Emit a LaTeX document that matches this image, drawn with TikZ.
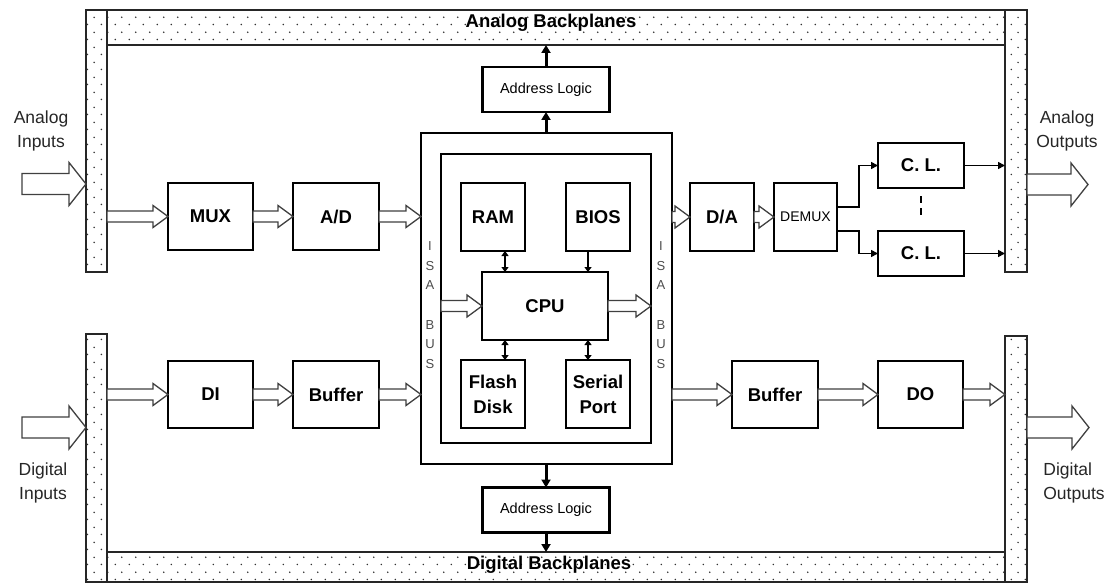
\documentclass[tikz,border=0pt]{standalone}
\usepackage{fontspec}
\setmainfont{Liberation Sans}
\usetikzlibrary{arrows.meta,calc,patterns}

% staggered dot grid for the backplane strips
\pgfdeclarepatternformonly{bpdots}{\pgfqpoint{0pt}{0pt}}{\pgfqpoint{14pt}{15pt}}{\pgfqpoint{14pt}{15pt}}{%
  \pgfpathcircle{\pgfqpoint{3.5pt}{3.75pt}}{0.9pt}%
  \pgfpathcircle{\pgfqpoint{10.5pt}{11.25pt}}{0.9pt}%
  \pgfusepath{fill}}

% hollow (outlined) bus arrow: start, end, shaft half width, head half width, head length
\newcommand\hollowarrow[5]{%
  \draw[hollow] let \p1=(#1), \p2=(#2) in
    (\x1,{\y1+#3}) -- ({\x2-#5},{\y1+#3}) -- ({\x2-#5},{\y1+#4}) -- (\x2,\y1)
    -- ({\x2-#5},{\y1-#4}) -- ({\x2-#5},{\y1-#3}) -- (\x1,{\y1-#3}) -- cycle;}
\newcommand\busarrow[2]{\hollowarrow{#1}{#2}{5.5pt}{11pt}{15pt}}
\newcommand\portarrow[2]{\hollowarrow{#1}{#2}{10.5pt}{21.5pt}{17pt}}

\tikzset{
  every node/.style={inner sep=0pt, outer sep=0pt},
  backplane/.style={draw=black!85, line width=1.4pt, pattern=bpdots, pattern color=black!80},
  bandlabel/.style={font=\bfseries\fontsize{18.5}{20}\selectfont},
  unit/.style={draw, line width=2.8pt, fill=white, align=center,
               font=\bfseries\fontsize{18.5}{25}\selectfont},
  addrbox/.style={draw, line width=2.8pt, fill=white, minimum width=127pt, minimum height=45pt,
                  font=\fontsize{14.5}{16}\selectfont},
  busbox/.style={draw, line width=1.8pt},
  isatext/.style={align=center, text=black!70, font=\fontsize{13}{19.7}\selectfont},
  side/.style={align=center, text=black!85, font=\fontsize{17.5}{24.5}\selectfont},
  hollow/.style={draw=black!75, line width=1.3pt, fill=white, line join=miter},
  heavy/.style={line width=3pt, -{Triangle[length=8pt,width=9pt]}},
  link/.style={line width=1.6pt, -{Triangle[length=7pt,width=7pt]}},
  duplex/.style={line width=1.8pt, {Triangle[length=5pt,width=7pt]}-{Triangle[length=5pt,width=7pt]}},
  single/.style={line width=1.8pt, -{Triangle[length=5pt,width=7pt]}},
}

\begin{document}
\begin{tikzpicture}[x=1pt, y=-1pt]
\useasboundingbox (0,0) rectangle (1113,583);
\fill[white] (0,0) rectangle (1113,583);

% backplane frame
\node[backplane, minimum width=898pt, minimum height=35pt] (topband) at (556,27.5) {};
\node[backplane, minimum width=898pt, minimum height=30pt] (botband) at (556,567) {};
\node[backplane, minimum width=21pt, minimum height=262pt] (stripTL) at (96.5,141) {};
\node[backplane, minimum width=22pt, minimum height=262pt] (stripTR) at (1016,141) {};
\node[backplane, minimum width=21pt, minimum height=248pt] (stripBL) at (96.5,458) {};
\node[backplane, minimum width=22pt, minimum height=246pt] (stripBR) at (1016,459) {};
\node[bandlabel] (toplbl) at (551,23) {Analog Backplanes};
\node[bandlabel] (botlbl) at (549,565) {Digital Backplanes};

% ISA bus enclosure and the board inside it
\node[busbox, minimum width=251pt, minimum height=331pt] (isa) at (546.5,298.5) {};
\node[busbox, minimum width=210pt, minimum height=289pt] (board) at (546,298.5) {};
\node[isatext] (isaL) at (430,305) {I\\S\\A\\[19.7pt]B\\U\\S};
\node[isatext] (isaR) at (661,305) {I\\S\\A\\[19.7pt]B\\U\\S};

% processor board
\node[unit, minimum width=64pt, minimum height=68pt] (ram) at (493,217) {RAM};
\node[unit, minimum width=64pt, minimum height=68pt] (bios) at (598,217) {BIOS};
\node[unit, minimum width=126pt, minimum height=68pt] (cpu) at (545,306) {CPU};
\node[unit, minimum width=64pt, minimum height=68pt] (flash) at (493,394) {Flash\\Disk};
\node[unit, minimum width=64pt, minimum height=68pt] (serial) at (598,394) {Serial\\Port};

% address logic blocks
\node[addrbox] (al1) at (546,89.5) {Address Logic};
\node[addrbox] (al2) at (546,510) {Address Logic};

% analog chain
\node[unit, minimum width=85pt, minimum height=67pt] (mux) at (210.5,216.5) {MUX};
\node[unit, minimum width=86pt, minimum height=67pt] (ad) at (336,216.5) {A/D};
\node[unit, minimum width=64pt, minimum height=68pt] (da) at (722,217) {D/A};
\node[unit, minimum width=63pt, minimum height=68pt, font=\fontsize{14}{16}\selectfont] (demux) at (805.5,217) {DEMUX};
\node[unit, minimum width=86pt, minimum height=45pt] (cl1) at (921,165.5) {C. L.};
\node[unit, minimum width=86pt, minimum height=45pt] (cl2) at (921,253.5) {C. L.};

% digital chain
\node[unit, minimum width=85pt, minimum height=67pt] (di) at (210.5,394.5) {DI};
\node[unit, minimum width=86pt, minimum height=67pt] (bufL) at (336,394.5) {Buffer};
\node[unit, minimum width=86pt, minimum height=67pt] (bufR) at (775,394.5) {Buffer};
\node[unit, minimum width=85pt, minimum height=67pt] (do) at (920.5,394.5) {DO};

% external ports
\node[side] (ainlbl) at (41,131) {Analog\\Inputs};
\node[side] (dinlbl) at (43,483) {Digital\\Inputs};
\node[side] (aoutlbl) at (1067,131) {Analog\\Outputs};
\node[side, align=left] (doutlbl) at (1074,483) {Digital\\Outputs};
\coordinate (ainS) at (22,184);
\coordinate (dinS) at (22,427.5);
\coordinate (aoutE) at (1088,184.5);
\coordinate (doutE) at (1089,427.5);
\portarrow{ainS}{stripTL.west |- ainS}
\portarrow{dinS}{stripBL.west |- dinS}
\portarrow{stripTR.east |- aoutE}{aoutE}
\portarrow{stripBR.east |- doutE}{doutE}

% bus arrows, analog row
\busarrow{stripTL.east |- mux.west}{mux.west}
\busarrow{mux.east}{ad.west}
\busarrow{ad.east}{isa.west |- ad.east}
\busarrow{isa.east |- da.west}{da.west}
\busarrow{da.east}{demux.west}

% bus arrows, digital row
\busarrow{stripBL.east |- di.west}{di.west}
\busarrow{di.east}{bufL.west}
\busarrow{bufL.east}{isa.west |- bufL.east}
\busarrow{isa.east |- bufR.west}{bufR.west}
\busarrow{bufR.east}{do.west}
\busarrow{do.east}{stripBR.west |- do.east}

% bus arrows through the CPU
\busarrow{board.west |- cpu.west}{cpu.west}
\busarrow{cpu.east}{board.east |- cpu.east}

% CPU local links
\draw[duplex] ([xshift=12pt]ram.south) -- ([xshift=12pt]ram.south |- cpu.north);
\draw[single] ([xshift=-10pt]bios.south) -- ([xshift=-10pt]bios.south |- cpu.north);
\draw[duplex] ([xshift=12pt]flash.north) -- ([xshift=12pt]flash.north |- cpu.south);
\draw[duplex] ([xshift=-10pt]serial.north) -- ([xshift=-10pt]serial.north |- cpu.south);

% address lines to the backplanes
\draw[heavy] (al1.north) -- (al1.north |- topband.south);
\draw[heavy] (isa.north -| al1.south) -- (al1.south);
\draw[heavy] (isa.south -| al2.north) -- (al2.north);
\draw[heavy] (al2.south) -- (al2.south |- botband.north);

% demultiplexer outputs through the current loops
\draw[link] ([yshift=10pt]demux.east) -- ++(22,0) |- (cl1.west);
\draw[link] ([yshift=-14pt]demux.east) -- ++(22,0) |- (cl2.west);
\draw[link] (cl1.east) -- (stripTR.west |- cl1.east);
\draw[link] (cl2.east) -- (stripTR.west |- cl2.east);
\draw[line width=1.5pt, dash pattern=on 7pt off 5pt] ([yshift=-8pt]cl1.south) -- ([yshift=14pt]cl2.north);
\end{tikzpicture}
\end{document}
